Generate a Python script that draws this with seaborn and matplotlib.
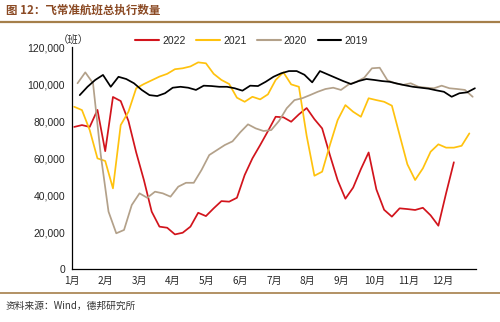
import numpy as np
import pandas as pd
import matplotlib
matplotlib.use("Agg")
import matplotlib.pyplot as plt
from matplotlib.lines import Line2D
from matplotlib.ticker import FuncFormatter
import seaborn as sns

# ---------------- data ----------------
years = ["2022", "2021", "2020", "2019"]
first_day = [2, 2, 5, 7]          # day of year of first weekly observation

v2022 = [76800, 77800, 76800, 86000, 63700, 93000, 90800, 80000, 63000, 48000,
         31000, 22900, 22300, 18700, 19600, 22900, 30400, 28600, 32800, 36700,
         36400, 38500, 50800, 59800, 67000, 74500, 82300, 82000, 79600, 83600,
         87000, 81000, 76000, 61600, 48000, 38000, 44000, 54000, 63000, 43000,
         32000, 28300, 32800, 32400, 31900, 33100, 29000, 23400, 41000, 57700]

v2021 = [87700, 85900, 75100, 59800, 58400, 43600, 77800, 85000, 97700, 100000,
         102000, 104000, 105500, 108000, 108500, 109500, 111700, 111200, 105500, 102200,
         100000, 92600, 90400, 93100, 91700, 94400, 102200, 106300, 99800, 98500,
         72000, 50400, 52600, 67000, 80500, 88600, 85000, 82300, 92300, 91300,
         90400, 88300, 72400, 56600, 48100, 54400, 63400, 67400, 65600, 65600,
         66600, 73300]

v2020 = [100400, 106300, 100400, 61600, 31000, 19300, 21100, 34600, 40900, 38500,
         41800, 40900, 39100, 44500, 46600, 46600, 53500, 61600, 64300, 67000,
         69000, 73900, 78200, 76000, 74600, 75100, 80000, 86900, 91300, 92300,
         94000, 95800, 97300, 98000, 96800, 99800, 101200, 103400, 108500, 108800,
         102000, 100400, 99500, 100400, 98500, 98000, 97700, 99100, 97700, 97300,
         96800, 93100]

v2019 = [94000, 98500, 102200, 104900, 98500, 103900, 102700, 100400, 96800, 94000,
         93500, 95000, 98000, 98500, 98000, 96800, 99100, 98900, 98500, 98500,
         97700, 96400, 99100, 98900, 101200, 103900, 105800, 107000, 107000, 105000,
         100900, 107000, 105200, 103400, 101600, 100000, 101600, 102700, 102200, 101600,
         101200, 100200, 99300, 98500, 98000, 97500, 96600, 95800, 93100, 95000,
         95500, 97700]

series_values = [v2022, v2021, v2020, v2019]
month_labels = ["1月", "2月", "3月", "4月", "5月", "6月", "7月", "8月", "9月",
                "10月", "11月", "12月"]
y_ticks = [0, 20000, 40000, 60000, 80000, 100000, 120000]
colors = ["#D2141C", "#FFC20E", "#B3A18A", "#000000"]

title = "图 12：飞常准航班总执行数量"
unit = "（班）"
source = "资料来源：Wind，德邦研究所"

# ---------------- frame ----------------
rows = []
for yr, d0, vals in zip(years, first_day, series_values):
    for i, v in enumerate(vals):
        rows.append({"year": yr, "day": d0 + 7 * i, "value": v})
df = pd.DataFrame(rows)

sns.set_theme(style="white")
plt.rcParams["font.family"] = ["Liberation Sans", "Noto Sans CJK SC", "DejaVu Sans"]

fig = plt.figure(figsize=(5.0, 3.22), dpi=100)
ax = fig.add_axes([0.144, 0.1646, 0.808, 0.6894])

sns.lineplot(data=df, x="day", y="value", hue="year", hue_order=years,
             palette=colors, ax=ax, linewidth=1.25, legend=False)

ax.set_xlim(0, 365)
ax.set_ylim(0, 120000)
ax.set_xticks(np.linspace(0, 365, 13))
ax.set_xticklabels(month_labels + [""], fontsize=7.2,
                   family=["Noto Sans CJK SC"])
ax.set_yticks(y_ticks)
ax.yaxis.set_major_formatter(FuncFormatter(lambda v, p: f"{int(v):,}"))
ax.tick_params(axis="y", labelsize=7.5, direction="inout", length=4,
               width=0.8, color="black", pad=3)
ax.tick_params(axis="x", direction="inout", length=4, width=0.8,
               color="black", pad=3)
ax.set_xlabel("")
ax.set_ylabel("")
for s in ["top", "right"]:
    ax.spines[s].set_visible(False)
for s in ["left", "bottom"]:
    ax.spines[s].set_color("black")
    ax.spines[s].set_linewidth(0.9)

handles = [Line2D([0], [0], color=c, lw=1.5) for c in colors]
fig.legend(handles, years, loc="center", bbox_to_anchor=(0.503, 0.873),
           ncol=4, frameon=False, fontsize=7.5, handlelength=2.3,
           handletextpad=0.3, columnspacing=1.0)

fig.text(0.146, 1 - 40 / 322, unit, ha="center", va="center", fontsize=7.5,
         family=["Noto Sans CJK SC"], color="#333333")

fig.text(0.012, 1 - 10 / 322, title, ha="left", va="center", fontsize=8.3,
         fontweight="bold", color="#8B4A24", family=["Noto Sans CJK SC"])
fig.add_artist(Line2D([0.0, 1.0], [1 - 22 / 322] * 2, color="#A57F4A", lw=1.6))
fig.add_artist(Line2D([0.0, 1.0], [1 - 293 / 322] * 2, color="#A57F4A", lw=1.2))
fig.text(0.012, 1 - 306 / 322, source, ha="left", va="center", fontsize=7,
         color="#333333", family=["Noto Sans CJK SC", "Liberation Sans"])

fig.savefig("out.png", dpi=100)
